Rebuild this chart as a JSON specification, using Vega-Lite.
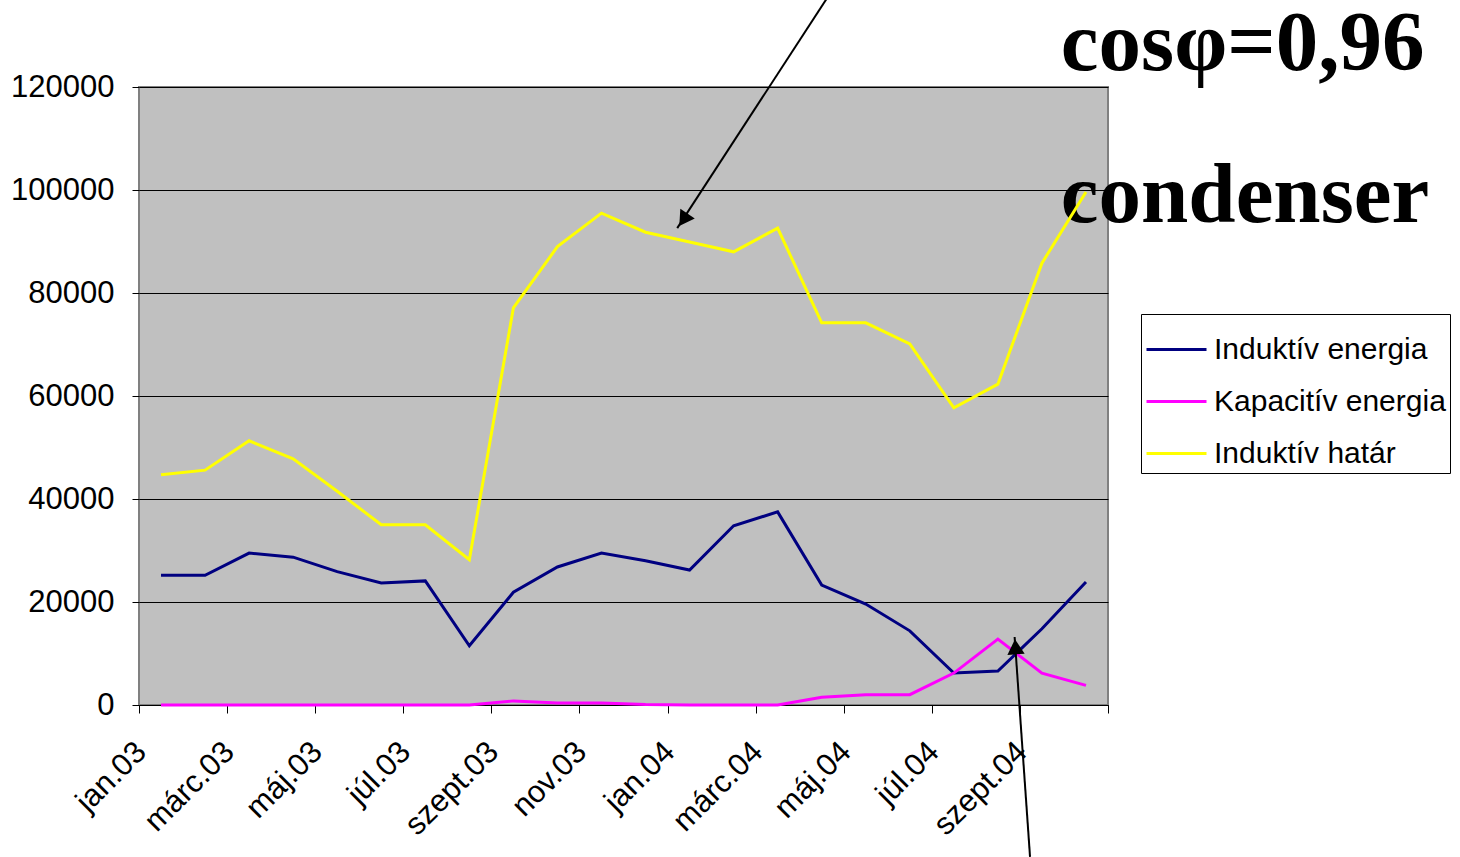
{
  "$schema": "https://vega.github.io/schema/vega-lite/v6.json",
  "autosize": {"type": "none"},
  "padding": {"left": 139, "top": 87, "right": 352, "bottom": 152},
  "width": 969,
  "height": 618,
  "background": "#FFFFFF",
  "config": {
    "view": {"fill": "#C0C0C0", "stroke": "#808080", "strokeWidth": 2},
    "font": "Liberation Sans"
  },
  "datasets": {
    "series": [
      {"i": 0, "month": "jan.03", "series": "Induktív energia", "value": 25200},
      {"i": 1, "month": "febr.03", "series": "Induktív energia", "value": 25200},
      {"i": 2, "month": "márc.03", "series": "Induktív energia", "value": 29500},
      {"i": 3, "month": "ápr.03", "series": "Induktív energia", "value": 28700},
      {"i": 4, "month": "máj.03", "series": "Induktív energia", "value": 25900},
      {"i": 5, "month": "jún.03", "series": "Induktív energia", "value": 23700},
      {"i": 6, "month": "júl.03", "series": "Induktív energia", "value": 24100},
      {"i": 7, "month": "aug.03", "series": "Induktív energia", "value": 11500},
      {"i": 8, "month": "szept.03", "series": "Induktív energia", "value": 21900},
      {"i": 9, "month": "okt.03", "series": "Induktív energia", "value": 26800},
      {"i": 10, "month": "nov.03", "series": "Induktív energia", "value": 29500},
      {"i": 11, "month": "dec.03", "series": "Induktív energia", "value": 28000},
      {"i": 12, "month": "jan.04", "series": "Induktív energia", "value": 26200},
      {"i": 13, "month": "febr.04", "series": "Induktív energia", "value": 34800},
      {"i": 14, "month": "márc.04", "series": "Induktív energia", "value": 37500},
      {"i": 15, "month": "ápr.04", "series": "Induktív energia", "value": 23300},
      {"i": 16, "month": "máj.04", "series": "Induktív energia", "value": 19600},
      {"i": 17, "month": "jún.04", "series": "Induktív energia", "value": 14400},
      {"i": 18, "month": "júl.04", "series": "Induktív energia", "value": 6200},
      {"i": 19, "month": "aug.04", "series": "Induktív energia", "value": 6600},
      {"i": 20, "month": "szept.04", "series": "Induktív energia", "value": 14800},
      {"i": 21, "month": "okt.04", "series": "Induktív energia", "value": 23900},
      {"i": 0, "month": "jan.03", "series": "Kapacitív energia", "value": 0},
      {"i": 1, "month": "febr.03", "series": "Kapacitív energia", "value": 0},
      {"i": 2, "month": "márc.03", "series": "Kapacitív energia", "value": 0},
      {"i": 3, "month": "ápr.03", "series": "Kapacitív energia", "value": 0},
      {"i": 4, "month": "máj.03", "series": "Kapacitív energia", "value": 0},
      {"i": 5, "month": "jún.03", "series": "Kapacitív energia", "value": 0},
      {"i": 6, "month": "júl.03", "series": "Kapacitív energia", "value": 0},
      {"i": 7, "month": "aug.03", "series": "Kapacitív energia", "value": 0},
      {"i": 8, "month": "szept.03", "series": "Kapacitív energia", "value": 800},
      {"i": 9, "month": "okt.03", "series": "Kapacitív energia", "value": 400},
      {"i": 10, "month": "nov.03", "series": "Kapacitív energia", "value": 400},
      {"i": 11, "month": "dec.03", "series": "Kapacitív energia", "value": 100},
      {"i": 12, "month": "jan.04", "series": "Kapacitív energia", "value": 0},
      {"i": 13, "month": "febr.04", "series": "Kapacitív energia", "value": 0},
      {"i": 14, "month": "márc.04", "series": "Kapacitív energia", "value": 0},
      {"i": 15, "month": "ápr.04", "series": "Kapacitív energia", "value": 1500},
      {"i": 16, "month": "máj.04", "series": "Kapacitív energia", "value": 2000},
      {"i": 17, "month": "jún.04", "series": "Kapacitív energia", "value": 2000},
      {"i": 18, "month": "júl.04", "series": "Kapacitív energia", "value": 6200},
      {"i": 19, "month": "aug.04", "series": "Kapacitív energia", "value": 12800},
      {"i": 20, "month": "szept.04", "series": "Kapacitív energia", "value": 6200},
      {"i": 21, "month": "okt.04", "series": "Kapacitív energia", "value": 3800},
      {"i": 0, "month": "jan.03", "series": "Induktív határ", "value": 44700},
      {"i": 1, "month": "febr.03", "series": "Induktív határ", "value": 45600},
      {"i": 2, "month": "márc.03", "series": "Induktív határ", "value": 51300},
      {"i": 3, "month": "ápr.03", "series": "Induktív határ", "value": 47800},
      {"i": 4, "month": "máj.03", "series": "Induktív határ", "value": 41500},
      {"i": 5, "month": "jún.03", "series": "Induktív határ", "value": 35000},
      {"i": 6, "month": "júl.03", "series": "Induktív határ", "value": 35000},
      {"i": 7, "month": "aug.03", "series": "Induktív határ", "value": 28200},
      {"i": 8, "month": "szept.03", "series": "Induktív határ", "value": 77100},
      {"i": 9, "month": "okt.03", "series": "Induktív határ", "value": 89000},
      {"i": 10, "month": "nov.03", "series": "Induktív határ", "value": 95500},
      {"i": 11, "month": "dec.03", "series": "Induktív határ", "value": 91800},
      {"i": 12, "month": "jan.04", "series": "Induktív határ", "value": 89900},
      {"i": 13, "month": "febr.04", "series": "Induktív határ", "value": 88000},
      {"i": 14, "month": "márc.04", "series": "Induktív határ", "value": 92600},
      {"i": 15, "month": "ápr.04", "series": "Induktív határ", "value": 74200},
      {"i": 16, "month": "máj.04", "series": "Induktív határ", "value": 74200},
      {"i": 17, "month": "jún.04", "series": "Induktív határ", "value": 70100},
      {"i": 18, "month": "júl.04", "series": "Induktív határ", "value": 57700},
      {"i": 19, "month": "aug.04", "series": "Induktív határ", "value": 62300},
      {"i": 20, "month": "szept.04", "series": "Induktív határ", "value": 85800},
      {"i": 21, "month": "okt.04", "series": "Induktív határ", "value": 99600}
    ],
    "notes": [
      {"x": 20.43, "y": 123300, "label": "cosφ=0,96"},
      {"x": 20.43, "y": 93800, "label": "condenser"}
    ],
    "arrows": [
      {"x": 15.17, "y": 137900, "x2": 11.72, "y2": 92600},
      {"x": 19.73, "y": -29500, "x2": 19.38, "y2": 13200}
    ],
    "heads": [
      {"x": 11.86, "y": 94200, "angle": 213.7},
      {"x": 19.40, "y": 11300, "angle": 356}
    ]
  },
  "layer": [
    {
      "data": {"name": "notes"},
      "mark": {"type": "text", "font": "Liberation Serif", "fontWeight": "bold", "fontSize": 85, "align": "left", "baseline": "alphabetic", "color": "#000000"},
      "encoding": {
        "x": {"field": "x", "type": "quantitative"},
        "y": {"field": "y", "type": "quantitative"},
        "text": {"field": "label"}
      }
    },
    {
      "data": {"name": "series"},
      "mark": {"type": "line", "strokeWidth": 3},
      "encoding": {
        "x": {
          "field": "i", "type": "quantitative", "title": null,
          "scale": {"domain": [-0.5, 21.5], "nice": false, "zero": false},
          "axis": {
            "values": [-0.5, 1.5, 3.5, 5.5, 7.5, 9.5, 11.5, 13.5, 15.5, 17.5, 19.5, 21.5],
            "labelExpr": "['jan.03','márc.03','máj.03','júl.03','szept.03','nov.03','jan.04','márc.04','máj.04','júl.04','szept.04',''][round((datum.value + 0.5) / 2)]",
            "grid": false, "domain": true, "domainColor": "#000000", "domainWidth": 1,
            "tickColor": "#000000", "tickSize": 8, "tickWidth": 1,
            "labelAngle": -45, "labelAlign": "right", "labelBaseline": "middle",
            "labelFontSize": 31, "labelColor": "#000000", "labelPadding": 34, "labelOffset": 2, "labelOverlap": false, "labelFlush": false
          }
        },
        "y": {
          "field": "value", "type": "quantitative", "title": null,
          "scale": {"domain": [0, 120000], "nice": false},
          "axis": {
            "values": [0, 20000, 40000, 60000, 80000, 100000, 120000],
            "format": "d",
            "grid": true, "gridColor": "#000000", "gridWidth": 1, "gridOpacity": 1,
            "domain": false, "tickColor": "#000000", "tickSize": 7, "tickWidth": 1,
            "labelFontSize": 31, "labelColor": "#000000", "labelPadding": 18, "labelFlush": false
          }
        },
        "color": {
          "field": "series", "type": "nominal",
          "scale": {"domain": ["Induktív energia", "Kapacitív energia", "Induktív határ"], "range": ["#000080", "#FF00FF", "#FFFF00"]},
          "legend": {
            "title": null, "orient": "none", "legendX": 1002, "legendY": 227,
            "fillColor": "#FFFFFF", "strokeColor": "#000000", "padding": 4,
            "symbolType": "stroke", "symbolSize": 3600, "symbolStrokeWidth": 3,
            "labelFontSize": 30, "labelFont": "Liberation Sans", "labelColor": "#000000",
            "rowPadding": 5, "labelOffset": 6, "labelLimit": 400
          }
        }
      }
    },
    {
      "data": {"name": "arrows"},
      "mark": {"type": "rule", "color": "#000000", "strokeWidth": 2},
      "encoding": {
        "x": {"field": "x", "type": "quantitative"},
        "y": {"field": "y", "type": "quantitative"},
        "x2": {"field": "x2"},
        "y2": {"field": "y2"}
      }
    },
    {
      "data": {"name": "heads"},
      "mark": {"type": "point", "shape": "triangle-up", "filled": true, "color": "#000000", "size": 300, "opacity": 1},
      "encoding": {
        "x": {"field": "x", "type": "quantitative"},
        "y": {"field": "y", "type": "quantitative"},
        "angle": {"field": "angle", "type": "quantitative", "scale": null}
      }
    }
  ]
}
